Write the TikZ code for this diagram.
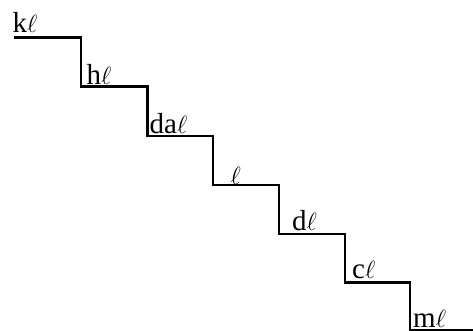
\documentclass[tikz,border=0pt]{standalone}
\usepackage{fontspec}
\setmainfont{Liberation Serif}
\begin{document}
\begin{tikzpicture}[x=1pt,y=-1pt,
  lbl/.style={anchor=base west, inner sep=0pt, font=\fontsize{29}{34}\selectfont},
  stair/.style={line width=2.2pt, line join=miter}]
\useasboundingbox (0,0) rectangle (473,331);
\coordinate (s0) at (14,37.5);
\coordinate (s1) at (81,86.5);
\coordinate (s2) at (147.5,136);
\coordinate (s3) at (213,185);
\coordinate (s4) at (279,234);
\coordinate (s5) at (345,282.5);
\coordinate (s6) at (410,330);
\coordinate (s7) at (473,330);
\draw[stair] (s0) -| (s1) -| (s2) -| (s3) -| (s4) -| (s5) -| (s6) -- (s7);
\node[lbl] (k) at (12.5,32.3) {k$\ell$};
\node[lbl] (h) at (86.5,85) {h$\ell$};
\node[lbl] (da) at (149.5,133.5) {da$\ell$};
\node[lbl] (l) at (230.5,184.5) {$\ell$};
\node[lbl] (d) at (292,230.5) {d$\ell$};
\node[lbl] (c) at (352,278.5) {c$\ell$};
\node[lbl] (m) at (413,327.7) {m$\ell$};
\end{tikzpicture}
\end{document}
